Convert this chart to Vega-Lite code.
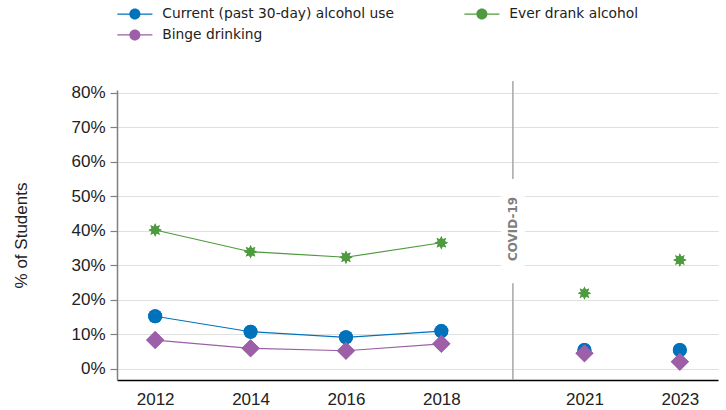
{
  "$schema": "https://vega.github.io/schema/vega-lite/v6.json",
  "width": 601,
  "height": 290,
  "autosize": {"type": "none"},
  "padding": {"left": 117, "top": 90, "right": 8, "bottom": 30},
  "background": "white",
  "config": {"view": {"stroke": null}, "font": "Liberation Sans"},
  "datasets": {
    "survey": [
      {"year": 2012, "series": "Current (past 30-day) alcohol use", "value": 15.2},
      {"year": 2014, "series": "Current (past 30-day) alcohol use", "value": 10.7},
      {"year": 2016, "series": "Current (past 30-day) alcohol use", "value": 9.1},
      {"year": 2018, "series": "Current (past 30-day) alcohol use", "value": 10.9},
      {"year": 2021, "series": "Current (past 30-day) alcohol use", "value": 5.4},
      {"year": 2023, "series": "Current (past 30-day) alcohol use", "value": 5.4},
      {"year": 2012, "series": "Ever drank alcohol", "value": 40.2},
      {"year": 2014, "series": "Ever drank alcohol", "value": 33.9},
      {"year": 2016, "series": "Ever drank alcohol", "value": 32.3},
      {"year": 2018, "series": "Ever drank alcohol", "value": 36.5},
      {"year": 2021, "series": "Ever drank alcohol", "value": 21.9},
      {"year": 2023, "series": "Ever drank alcohol", "value": 31.5},
      {"year": 2012, "series": "Binge drinking", "value": 8.3},
      {"year": 2014, "series": "Binge drinking", "value": 5.9},
      {"year": 2016, "series": "Binge drinking", "value": 5.2},
      {"year": 2018, "series": "Binge drinking", "value": 7.2},
      {"year": 2021, "series": "Binge drinking", "value": 4.5},
      {"year": 2023, "series": "Binge drinking", "value": 2.0}
    ],
    "covid": [
      {"year": 2019.5, "value": 83.4, "value2": -3.28, "x0": 2019.25, "x1": 2019.75, "b0": 24.8, "b1": 55, "mid": 40.5, "label": "COVID-19"}
    ]
  },
  "layer": [
    {
      "data": {"name": "covid"},
      "mark": {"type": "rule", "color": "#a6a6a6", "strokeWidth": 1.5},
      "encoding": {
        "x": {"field": "year", "type": "quantitative", "title": null, "scale": {"domain": [2011.2, 2023.8], "nice": false, "zero": false},
          "axis": {"title": null, "values": [2012, 2014, 2016, 2018, 2021, 2023], "format": "d", "grid": false, "ticks": false, "domainColor": "#000000", "domainWidth": 1.5, "labelFont": "Liberation Sans", "labelFontSize": 17, "labelColor": "#222222", "labelPadding": 11}},
        "y": {"field": "value", "type": "quantitative", "title": "% of Students", "scale": {"domain": [-3.28, 80.78], "nice": false, "zero": false},
          "axis": {"title": "% of Students", "values": [0, 10, 20, 30, 40, 50, 60, 70, 80], "tickCount": 9, "labelOverlap": false, "labelExpr": "datum.value + '%'", "grid": true, "gridColor": "#e0e0e0", "gridWidth": 1.2, "domainColor": "#808080", "domainWidth": 1.5, "tickColor": "#808080", "tickSize": 7, "tickWidth": 1.2, "labelFont": "Liberation Sans", "labelFontSize": 17, "labelColor": "#222222", "labelPadding": 5, "titleFont": "Liberation Sans", "titleFontSize": 17, "titleFontWeight": "normal", "titleColor": "#222222", "titlePadding": 40}},
        "y2": {"field": "value2"}
      }
    },
    {
      "data": {"name": "covid"},
      "mark": {"type": "rect", "color": "white"},
      "encoding": {
        "x": {"field": "x0", "type": "quantitative", "title": null},
        "x2": {"field": "x1"},
        "y": {"field": "b0", "type": "quantitative", "title": "% of Students"},
        "y2": {"field": "b1"}
      }
    },
    {
      "data": {"name": "covid"},
      "mark": {"type": "text", "angle": 270, "font": "DejaVu Sans", "fontWeight": "bold", "fontSize": 12, "color": "#7f7f7f", "align": "center", "baseline": "middle"},
      "encoding": {
        "x": {"field": "year", "type": "quantitative", "title": null},
        "y": {"field": "mid", "type": "quantitative", "title": "% of Students"},
        "text": {"field": "label"}
      }
    },
    {
      "data": {"name": "survey"},
      "mark": {"type": "point", "filled": true, "opacity": 1, "size": 196, "strokeWidth": 0},
      "encoding": {
        "x": {"field": "year", "type": "quantitative", "title": null},
        "y": {"field": "value", "type": "quantitative", "title": "% of Students"},
        "color": {"field": "series", "type": "nominal",
          "scale": {"domain": ["Current (past 30-day) alcohol use", "Ever drank alcohol", "Binge drinking"], "range": ["#0072bc", "#4e9a3e", "#9c5fa8"]},
          "legend": {
            "title": null, "orient": "none", "legendX": 11, "legendY": -83, "direction": "horizontal", "columns": 2,
            "columnPadding": 70, "rowPadding": 6, "padding": 0, "labelFont": "DejaVu Sans", "labelFontSize": 13.8, "labelColor": "#222222", "labelLimit": 400,
            "symbolSize": 144, "labelOffset": 20.5, "symbolStrokeWidth": 0,
            "symbolType": "M-2.92,-0.1H-0.85V0.1H-2.92ZM0.85,-0.1H2.92V0.1H0.85ZM-0.92,0A0.92,0.92 0 1,1 0.92,0A0.92,0.92 0 1,1 -0.92,0Z",
            "encode": {"symbols": {"update": {
              "shape": {"signal": "datum.value === 'Binge drinking' ? 'M-2.92,-0.1H-1.1V0.1H-2.92ZM1.1,-0.1H2.92V0.1H1.1ZM0,-1.15L1.15,0L0,1.15L-1.15,0Z' : datum.value === 'Ever drank alcohol' ? 'M-2.92,-0.1H-0.5V0.1H-2.92ZM0.5,-0.1H2.92V0.1H0.5ZM0.8,0L0.37,0.153L0.566,0.566L0.153,0.37L0,0.8L-0.153,0.37L-0.566,0.566L-0.37,0.153L-0.8,0L-0.37,-0.153L-0.566,-0.566L-0.153,-0.37L0,-0.8L0.153,-0.37L0.566,-0.566L0.37,-0.153Z' : 'M-2.92,-0.1H-0.85V0.1H-2.92ZM0.85,-0.1H2.92V0.1H0.85ZM-0.92,0A0.92,0.92 0 1,1 0.92,0A0.92,0.92 0 1,1 -0.92,0Z'"}
            }}}
          }},
        "shape": {"field": "series", "type": "nominal",
          "scale": {"domain": ["Binge drinking", "Current (past 30-day) alcohol use", "Ever drank alcohol"],
            "range": ["M0,-1.29L1.29,0L0,1.29L-1.29,0Z", "circle", "M0.96,0L0.488,0.202L0.679,0.679L0.202,0.488L0,0.96L-0.202,0.488L-0.679,0.679L-0.488,0.202L-0.96,0L-0.488,-0.202L-0.679,-0.679L-0.202,-0.488L0,-0.96L0.202,-0.488L0.679,-0.679L0.488,-0.202Z"]},
          "legend": null}
      }
    },
    {
      "data": {"name": "survey"},
      "transform": [{"filter": "datum.year < 2020"}],
      "mark": {"type": "line", "strokeWidth": 1.2},
      "encoding": {
        "x": {"field": "year", "type": "quantitative", "title": null},
        "y": {"field": "value", "type": "quantitative", "title": "% of Students"},
        "color": {"field": "series", "type": "nominal"},
        "detail": {"field": "series"}
      }
    },
    {
      "data": {"name": "survey"},
      "mark": {"type": "point", "filled": true, "opacity": 1, "size": 196, "strokeWidth": 0},
      "encoding": {
        "x": {"field": "year", "type": "quantitative", "title": null},
        "y": {"field": "value", "type": "quantitative", "title": "% of Students"},
        "color": {"field": "series", "type": "nominal"},
        "shape": {"field": "series", "type": "nominal", "legend": null}
      }
    }
  ]
}
